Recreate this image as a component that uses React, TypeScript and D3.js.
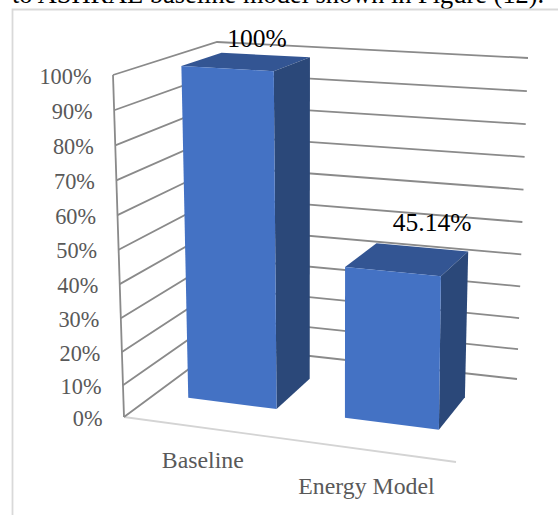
import * as d3 from "d3";

// Chart data
const categories = ["Baseline", "Energy Model"];
const seriesValues = [100, 45.14];
const valueLabels = ["100%", "45.14%"];
const tickValues = [0, 10, 20, 30, 40, 50, 60, 70, 80, 90, 100];

// Corners of the 3D plot box on screen: floor plane and the plane at 100%
type Pt = [number, number];
const floor = { fl: [124, 417] as Pt, fr: [456, 462] as Pt, bl: [220, 346] as Pt, br: [517, 379] as Pt };
const ceil = { fl: [113, 75] as Pt, fr: [460, 95] as Pt, bl: [217, 42] as Pt, br: [528, 58] as Pt };

const mix = (a: Pt, b: Pt, t: number): Pt => [d3.interpolateNumber(a[0], b[0])(t), d3.interpolateNumber(a[1], b[1])(t)];
const bilinear = (q: typeof floor, u: number, d: number): Pt => mix(mix(q.fl, q.fr, u), mix(q.bl, q.br, u), d);

// Vertical perspective: upper divisions are slightly taller than lower ones
const heightScale = d3.scalePow().exponent(1.032).domain([0, 100]).range([0, 1]);
// Horizontal perspective: columns further right appear a little wider
const widthScale = d3.scalePow().exponent(1.055).domain([0, 1]).range([0, 1]);
// u runs along the category axis, d into the depth of the box
const bandU = d3.scaleBand<string>().domain(categories).range([0.016, 0.988]).paddingInner(0.4264).paddingOuter(0.2);
const depthFront = 0.33;
const depthBack = 0.73;

const project = (u: number, d: number, v: number): Pt =>
  mix(bilinear(floor, u, d), bilinear(ceil, u, d), heightScale(v));

const line = d3.line<Pt>();
const face = (pts: Pt[]) => line(pts) + "Z";

const GRID = "#8a8a8a";
const AXIS_TEXT = "#595959";
const FONT = "'Liberation Serif', 'Times New Roman', serif";
const FACE_FRONT = "#4472C4";
const FACE_TOP = "#335593";
const FACE_SIDE = "#2B4879";

const tickLabelOffset: Pt = [-21.5, 8.5];
const categoryLabelOffset: Pt[] = [[0, 40], [-2, 44]];
const valueLabelOffset: Pt[] = [[-8, -8], [10, -16]];

export default function App() {
  return (
    <svg width={558} height={515} style={{ position: "absolute", left: 0, top: 0, background: "#fff" }} fontFamily={FONT}>
      {/* surrounding document line and chart frame */}
      <text x={12} y={2.5} fontSize={26.4} fill="#000">to ASHRAE baseline model shown in Figure (12).</text>
      <path d="M12.5,515V9.5H558" fill="none" stroke="#d9d9d9" strokeWidth={1.8} />

      {/* front edge of the floor */}
      <path d={line([floor.fl, floor.fr])!} fill="none" stroke="#d4d4d4" strokeWidth={1.8} />

      {/* value axis */}
      <path d={line([project(0, 0, 0), project(0, 0, 100)])!} fill="none" stroke={GRID} strokeWidth={1.8} />

      {/* gridlines across both walls */}
      {tickValues.map((v) => (
        <path key={v} d={line([project(0, 0, v), project(0, 1, v), project(1, 1, v)])!} fill="none" stroke={GRID} strokeWidth={1.8} />
      ))}

      {tickValues.map((v) => {
        const [x, y] = project(0, 0, v);
        return (
          <text key={v} x={x + tickLabelOffset[0]} y={y + tickLabelOffset[1]} textAnchor="end" fontSize={22.3} fill={AXIS_TEXT}>
            {v}%
          </text>
        );
      })}

      {/* columns */}
      {categories.map((c, i) => {
        const u0 = widthScale(bandU(c)!);
        const u1 = widthScale(bandU(c)! + bandU.bandwidth());
        const v = seriesValues[i];
        return (
          <g key={c}>
            <path d={face([project(u0, depthFront, v), project(u1, depthFront, v), project(u1, depthBack, v), project(u0, depthBack, v)])} fill={FACE_TOP} />
            <path d={face([project(u1, depthFront, 0), project(u1, depthFront, v), project(u1, depthBack, v), project(u1, depthBack, 0)])} fill={FACE_SIDE} />
            <path d={face([project(u0, depthFront, 0), project(u0, depthFront, v), project(u1, depthFront, v), project(u1, depthFront, 0)])} fill={FACE_FRONT} />
          </g>
        );
      })}

      {/* category labels */}
      {categories.map((c, i) => {
        const [x, y] = project(widthScale(bandU(c)! + bandU.bandwidth() / 2), 0, 0);
        return (
          <text key={c} x={x + categoryLabelOffset[i][0]} y={y + categoryLabelOffset[i][1]} textAnchor="middle" fontSize={23.8} fill={AXIS_TEXT}>
            {c}
          </text>
        );
      })}

      {/* value labels */}
      {categories.map((c, i) => {
        const [x, y] = project(widthScale(bandU(c)! + bandU.bandwidth() / 2), depthBack, seriesValues[i]);
        return (
          <text key={c} x={x + valueLabelOffset[i][0]} y={y + valueLabelOffset[i][1]} textAnchor="middle" fontSize={25.5} fill="#000">
            {valueLabels[i]}
          </text>
        );
      })}
    </svg>
  );
}
